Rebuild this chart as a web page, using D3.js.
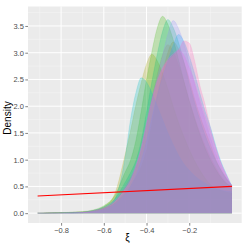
<!DOCTYPE html>
<html>
<head>
    <meta charset="utf-8">
    <script src="https://d3js.org/d3.v7.min.js"></script>
    <style>
        body { margin: 0; background-color: #FFFFFF; }
        text { font-family: "Liberation Sans", Arial, sans-serif; }
    </style>
</head>
<body>
<div id="chart"></div>
<script>
    var xiGrid = [-0.91, -0.8, -0.7, -0.65, -0.6, -0.55, -0.5, -0.475, -0.45, -0.425, -0.4, -0.375, -0.35,
        -0.325, -0.3, -0.275, -0.25, -0.225, -0.2, -0.175, -0.15, -0.125, -0.1, -0.075, -0.05, -0.025, 0];

    // one density per group (ggplot hue colours)
    var dens1 = [0.00, 0.01, 0.02, 0.04, 0.10, 0.22, 0.50, 0.66, 0.85, 1.17, 1.64, 2.14, 2.58, 2.96, 3.15, 3.02, 2.77, 2.46, 2.11, 1.80, 1.51, 1.26, 1.04, 0.85, 0.69, 0.57, 0.47];
    var dens2 = [0.00, 0.01, 0.02, 0.04, 0.09, 0.18, 0.38, 0.51, 0.67, 0.86, 1.18, 1.66, 2.18, 2.62, 3.01, 3.20, 3.07, 2.82, 2.50, 2.14, 1.82, 1.54, 1.28, 1.00, 0.80, 0.64, 0.50];
    var dens3 = [0.00, 0.01, 0.02, 0.05, 0.12, 0.35, 1.10, 1.54, 2.02, 2.44, 2.79, 2.97, 2.85, 2.61, 2.32, 1.99, 1.69, 1.43, 1.19, 0.98, 0.80, 0.65, 0.53, 0.45, 0.42, 0.39, 0.37];
    var dens4 = [0.00, 0.01, 0.03, 0.06, 0.14, 0.32, 0.77, 0.99, 1.36, 1.91, 2.50, 3.02, 3.46, 3.68, 3.53, 3.24, 2.87, 2.47, 2.10, 1.77, 1.47, 1.21, 0.99, 0.81, 0.66, 0.55, 0.50];
    var dens5 = [0.00, 0.01, 0.02, 0.05, 0.12, 0.26, 0.58, 0.76, 0.98, 1.35, 1.89, 2.46, 2.97, 3.40, 3.62, 3.47, 3.19, 2.83, 2.43, 2.07, 1.74, 1.45, 1.20, 0.98, 0.79, 0.64, 0.52];
    var dens6 = [0.00, 0.00, 0.01, 0.03, 0.08, 0.25, 1.05, 1.75, 2.25, 2.53, 2.45, 2.25, 2.00, 1.75, 1.50, 1.28, 1.08, 0.92, 0.80, 0.70, 0.62, 0.56, 0.50, 0.46, 0.43, 0.41, 0.40];
    var dens7 = [0.00, 0.00, 0.01, 0.03, 0.07, 0.16, 0.36, 0.50, 0.70, 0.98, 1.35, 1.78, 2.20, 2.55, 2.85, 3.14, 3.34, 3.21, 2.94, 2.61, 2.24, 1.90, 1.60, 1.25, 0.95, 0.72, 0.50];
    var dens8 = [0.00, 0.01, 0.02, 0.05, 0.11, 0.24, 0.50, 0.66, 0.90, 1.25, 1.70, 2.15, 2.55, 2.95, 3.35, 3.60, 3.45, 3.17, 2.81, 2.41, 2.05, 1.73, 1.40, 1.10, 0.85, 0.66, 0.52];
    var dens9 = [0.00, 0.00, 0.01, 0.04, 0.09, 0.21, 0.45, 0.62, 0.88, 1.22, 1.68, 2.12, 2.48, 2.72, 2.88, 2.98, 3.05, 2.95, 2.72, 2.45, 2.12, 1.82, 1.52, 1.20, 0.92, 0.70, 0.48];
    var dens10 = [0.00, 0.00, 0.01, 0.03, 0.08, 0.20, 0.45, 0.60, 0.85, 1.20, 1.65, 2.10, 2.45, 2.70, 2.85, 2.95, 3.05, 3.22, 3.18, 2.85, 2.38, 2.02, 1.58, 1.22, 0.92, 0.70, 0.50];

    var groupColors = ["#F8766D", "#D89000", "#A3A500", "#39B600", "#00BF7D",
        "#00BFC4", "#00B0F6", "#9590FF", "#E76BF3", "#FF62BC"];

    // red reference line
    var refX = [-0.91, 0];
    var refY = [0.32, 0.50];

    // axis breaks
    var xTicks = [-0.8, -0.6, -0.4, -0.2];
    var xMinor = [-0.9, -0.7, -0.5, -0.3, -0.1];
    var yTicks = [0, 0.5, 1, 1.5, 2, 2.5, 3, 3.5];
    var yMinor = [0.25, 0.75, 1.25, 1.75, 2.25, 2.75, 3.25, 3.75];

    var densities = [dens1, dens2, dens3, dens4, dens5, dens6, dens7, dens8, dens9, dens10];

    var width = 249, height = 249;
    var panel = { left: 28, right: 241.7, top: 6.5, bottom: 223 };

    var svg = d3.select("#chart")
        .append("svg")
        .attr("width", width)
        .attr("height", height);

    var x = d3.scaleLinear()
        .domain([-0.955, 0.0455])
        .range([panel.left, panel.right]);

    var y = d3.scaleLinear()
        .domain([-0.184, 3.864])
        .range([panel.bottom, panel.top]);

    // panel background
    svg.append("rect")
        .attr("x", panel.left)
        .attr("y", panel.top)
        .attr("width", panel.right - panel.left)
        .attr("height", panel.bottom - panel.top)
        .attr("fill", "#EBEBEB");

    // minor grid
    svg.selectAll(".xminor").data(xMinor).enter().append("line")
        .attr("x1", d => x(d)).attr("x2", d => x(d))
        .attr("y1", panel.top).attr("y2", panel.bottom)
        .attr("stroke", "#F7F7F7").attr("stroke-width", 0.5);
    svg.selectAll(".yminor").data(yMinor).enter().append("line")
        .attr("y1", d => y(d)).attr("y2", d => y(d))
        .attr("x1", panel.left).attr("x2", panel.right)
        .attr("stroke", "#F7F7F7").attr("stroke-width", 0.5);

    // major grid
    svg.selectAll(".xmajor").data(xTicks).enter().append("line")
        .attr("x1", d => x(d)).attr("x2", d => x(d))
        .attr("y1", panel.top).attr("y2", panel.bottom)
        .attr("stroke", "#FFFFFF").attr("stroke-width", 1);
    svg.selectAll(".ymajor").data(yTicks).enter().append("line")
        .attr("y1", d => y(d)).attr("y2", d => y(d))
        .attr("x1", panel.left).attr("x2", panel.right)
        .attr("stroke", "#FFFFFF").attr("stroke-width", 1);

    // densities
    var area = d3.area()
        .x(function (d, i) { return x(xiGrid[i]); })
        .y0(y(0))
        .y1(function (d) { return y(d); })
        .curve(d3.curveMonotoneX);

    var upper = d3.line()
        .x(function (d, i) { return x(xiGrid[i]); })
        .y(function (d) { return y(d); })
        .curve(d3.curveMonotoneX);

    densities.forEach(function (vals, k) {
        svg.append("path")
            .attr("d", area(vals))
            .attr("fill", groupColors[k])
            .attr("fill-opacity", 0.25);
        svg.append("path")
            .attr("d", upper(vals))
            .attr("fill", "none")
            .attr("stroke", groupColors[k])
            .attr("stroke-opacity", 0.25)
            .attr("stroke-width", 0.6);
    });

    // red line
    svg.append("path")
        .datum(refX.map(function (v, i) { return [v, refY[i]]; }))
        .attr("d", d3.line().x(d => x(d[0])).y(d => y(d[1])))
        .attr("fill", "none")
        .attr("stroke", "#FF0000")
        .attr("stroke-width", 1.1);

    // axes
    var xAxis = svg.append("g")
        .attr("transform", "translate(0," + panel.bottom + ")")
        .call(d3.axisBottom(x).tickValues(xTicks).tickSize(2.7).tickPadding(1.5)
            .tickFormat(function (d) { return d3.format(".1f")(d).replace("-", "\u2212"); }));
    var yAxis = svg.append("g")
        .attr("transform", "translate(" + panel.left + ",0)")
        .call(d3.axisLeft(y).tickValues(yTicks).tickSize(2.7).tickPadding(1.5)
            .tickFormat(d3.format(".1f")));

    [xAxis, yAxis].forEach(function (g) {
        g.select(".domain").remove();
        g.selectAll(".tick line").attr("stroke", "#333333").attr("stroke-width", 0.6);
        g.selectAll(".tick text")
            .attr("fill", "#4D4D4D")
            .style("font-size", "7.5px")
            .style("font-family", "'Liberation Sans', Arial, sans-serif");
    });

    // axis titles
    svg.append("text")
        .attr("x", 127.5)
        .attr("y", 241)
        .attr("text-anchor", "middle")
        .style("font-size", "10px")
        .text("\u03BE");

    svg.append("text")
        .attr("transform", "translate(11," + 118 + ") rotate(-90)")
        .attr("text-anchor", "middle")
        .style("font-size", "10px")
        .text("Density");
</script>
</body>
</html>
